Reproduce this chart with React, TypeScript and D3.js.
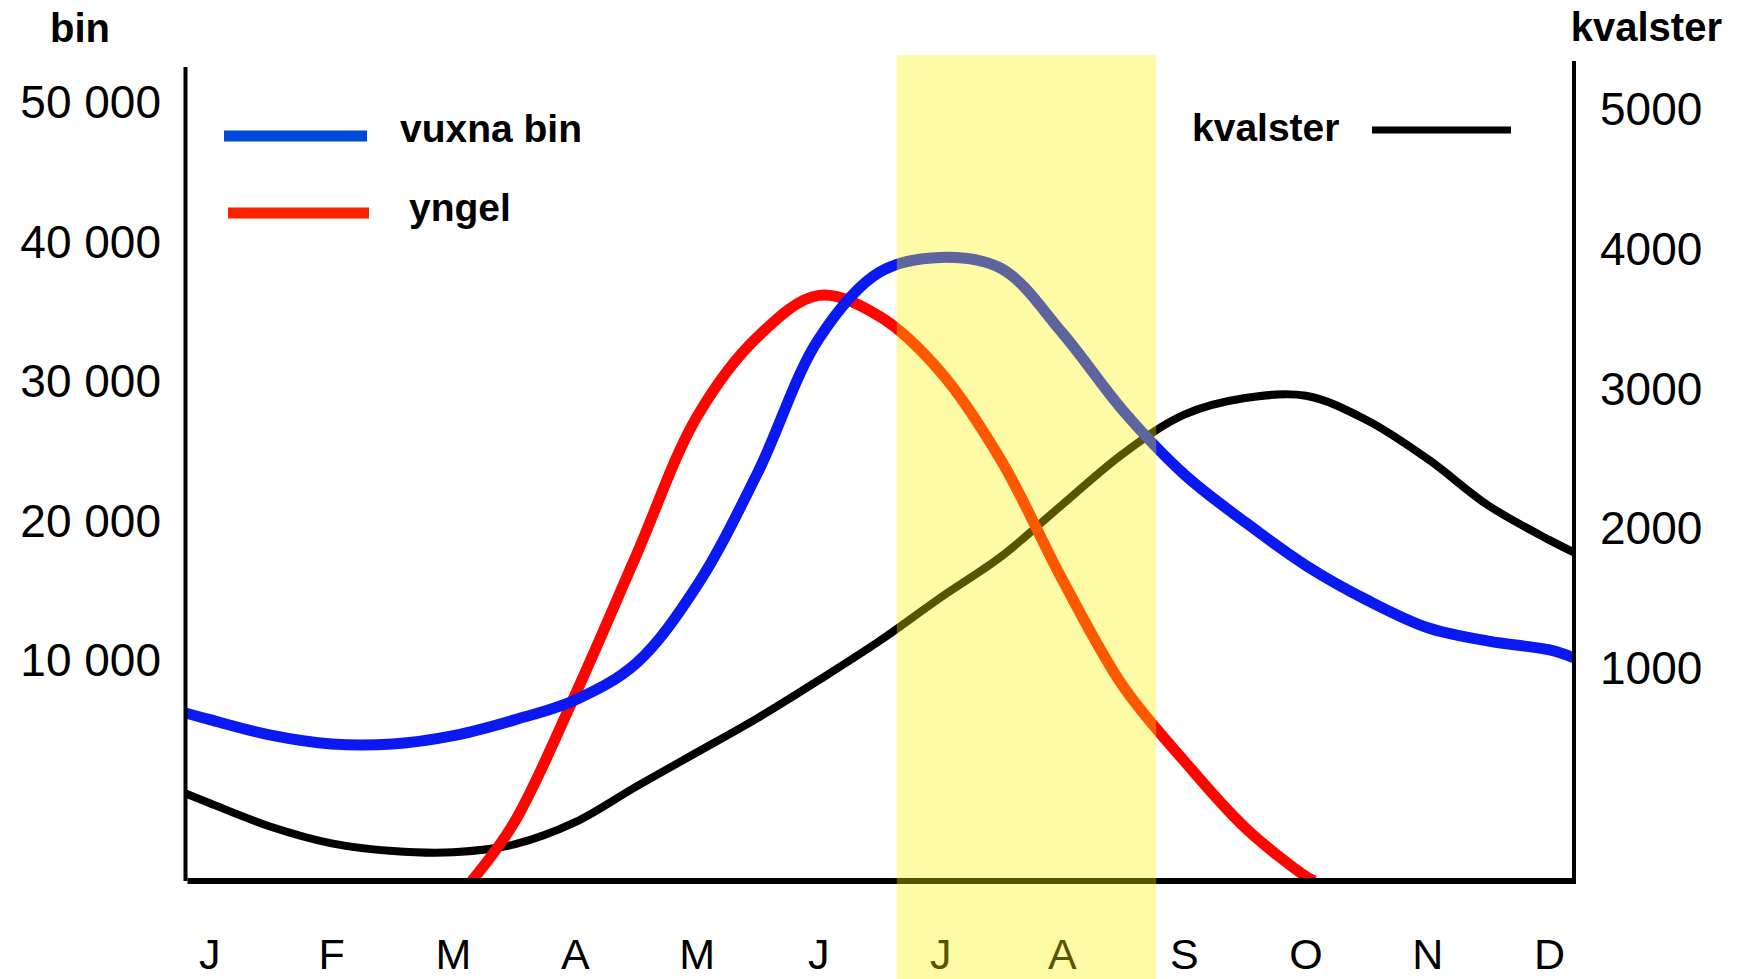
import React from 'react';
import * as d3 from 'd3';

// month labels along the bottom
const months = ['J', 'F', 'M', 'A', 'M', 'J', 'J', 'A', 'S', 'O', 'N', 'D'];

// left axis (bin) and right axis (kvalster) tick values
const binTicks = [10000, 20000, 30000, 40000, 50000];
const kvalsterTicks = [1000, 2000, 3000, 4000, 5000];

// vuxna bin, read at half-month steps (0 = J)
const vuxnaT = [-0.2, 0, 0.5, 1, 1.5, 2, 2.5, 3, 3.5, 4, 4.5, 5, 5.5, 6, 6.5, 7, 7.5, 8, 8.5, 9, 9.5, 10, 10.5, 11, 11.2];
const vuxnaBin = [7600, 7300, 6600, 6200, 6200, 6580, 7290, 8190, 9850, 15340, 23470, 33030, 37810, 38860, 38050, 33430, 27850, 23310, 19880, 16770, 14300, 12310, 11350, 10720, 10160];

// yngel
const yngelT = [2.15, 2.5, 3, 3.5, 4, 4.5, 5, 5.5, 6, 6.5, 7, 7.5, 8, 8.5, 9, 9.07];
const yngel = [0, 2660, 8440, 17490, 27450, 33190, 36140, 34620, 30640, 24260, 15740, 8790, 5430, 2410, 200, 0];

// kvalster (right axis)
const kvalsterT = [-0.2, 0, 0.5, 1, 1.5, 2, 2.5, 3, 3.5, 4, 4.5, 5, 5.5, 6, 6.5, 7, 7.5, 8, 8.5, 9, 9.5, 10, 10.5, 11, 11.2];
const kvalster = [411, 365, 255, 177, 141, 135, 172, 276, 443, 604, 766, 943, 1195, 1505, 1800, 2170, 2535, 2813, 2932, 2948, 2773, 2495, 2161, 1915, 1827];

// highlighted period (July - August)
const bandStart = 5.64;
const bandEnd = 7.77;

const W = 1742, H = 979;
const left = 185.5, right = 1574, bottom = 881;
const font = '"Liberation Sans", Arial, sans-serif';

const x = d3.scaleLinear().domain([-0.2, 11.2]).range([left, right]);
const yBin = d3.scaleLinear().domain([0, 10000, 50000]).range([bottom, 660, 102]);
const yKval = d3.scaleLinear().domain([0, 1000, 5000]).range([bottom, 668, 109]);

const spaced = d3.formatLocale({ decimal: ',', thousands: '\u00a0', grouping: [3], currency: ['', ''] }).format(',');

function linePath(ts: number[], vs: number[], y: d3.ScaleLinear<number, number>) {
  const gen = d3.line<number>()
    .x((_, i) => x(ts[i]))
    .y(v => y(v))
    .curve(d3.curveCatmullRom.alpha(0.5));
  return gen(vs) || '';
}

export default function App() {
  return (
    <svg width={W} height={H} style={{ position: 'absolute', left: 0, top: 0, display: 'block', background: '#fff' }}
      fontFamily={font}>
      <defs>
        <clipPath id="plot">
          <rect x={left} y={40} width={right - left} height={bottom - 40} />
        </clipPath>
      </defs>

      {/* axis titles */}
      <text x={50} y={42} fontSize={40} fontWeight="bold">bin</text>
      <text x={1722} y={41} fontSize={40} fontWeight="bold" textAnchor="end">kvalster</text>

      {/* left ticks */}
      {binTicks.map(t => (
        <text key={t} x={161} y={yBin(t)} fontSize={46} textAnchor="end" dominantBaseline="central">{spaced(t)}</text>
      ))}
      {/* right ticks */}
      {kvalsterTicks.map(t => (
        <text key={t} x={1600} y={yKval(t)} fontSize={46} dominantBaseline="central">{t}</text>
      ))}

      {/* lines */}
      <g clipPath="url(#plot)" fill="none">
        <path d={linePath(kvalsterT, kvalster, yKval)} stroke="#000" strokeWidth={8} />
        <path d={linePath(yngelT, yngel, yBin)} stroke="#ff0500" strokeWidth={11} />
        <path d={linePath(vuxnaT, vuxnaBin, yBin)} stroke="#0a18f2" strokeWidth={11} />
      </g>

      {/* axes */}
      <line x1={left} x2={left} y1={67} y2={bottom} stroke="#000" strokeWidth={4} />
      <line x1={right} x2={right} y1={61} y2={bottom + 2} stroke="#000" strokeWidth={4} />
      <line x1={left + 2} x2={right + 2} y1={bottom} y2={bottom} stroke="#000" strokeWidth={6} />

      {/* months */}
      {months.map((m, i) => (
        <text key={i} x={x(i)} y={969} fontSize={43} textAnchor="middle">{m}</text>
      ))}

      {/* legend */}
      <line x1={224} x2={367} y1={136} y2={136} stroke="#0048d8" strokeWidth={11} />
      <text x={400} y={142} fontSize={39} fontWeight="bold">vuxna bin</text>
      <line x1={228} x2={369} y1={213} y2={213} stroke="#ff2200" strokeWidth={11} />
      <text x={409} y={221} fontSize={39} fontWeight="bold">yngel</text>
      <text x={1192} y={141} fontSize={39} fontWeight="bold">kvalster</text>
      <line x1={1372} x2={1511} y1={130} y2={130} stroke="#000" strokeWidth={7} />

      {/* yellow highlight overlaid on everything */}
      <rect x={x(bandStart)} y={55} width={x(bandEnd) - x(bandStart)} height={H - 55}
        fill="#fcf300" opacity={0.35} />
    </svg>
  );
}
